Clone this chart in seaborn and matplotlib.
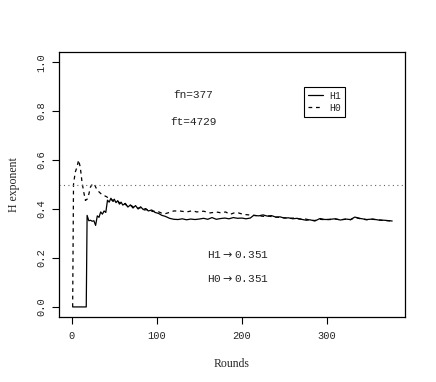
import matplotlib
matplotlib.use("Agg")
import matplotlib.pyplot as plt
import seaborn as sns
import pandas as pd

# Hurst exponent estimates per round
h1_rounds = [1, 17, 18, 20, 22, 24, 26, 28, 30, 32, 34, 36, 38, 40, 42, 44, 46,
             48, 50, 52, 54, 56, 58, 60, 63, 66, 69, 72, 75, 78, 81, 84, 87,
             90, 94, 98, 102, 106, 110, 115, 120, 125, 130, 135, 140, 145,
             150, 155, 160, 165, 170, 175, 180, 185, 190, 195, 200, 205, 210,
             214, 220, 225, 230, 235, 240, 245, 250, 255, 260, 265, 270, 276,
             280, 286, 292, 298, 304, 310, 316, 322, 328, 333, 340, 347, 354,
             361, 368, 377]
h1_values = [0.0, 0.0, 0.374, 0.352, 0.354, 0.350, 0.352, 0.333, 0.372, 0.366,
             0.388, 0.379, 0.392, 0.386, 0.436, 0.428, 0.444, 0.432, 0.440,
             0.426, 0.434, 0.420, 0.428, 0.416, 0.423, 0.408, 0.417, 0.404,
             0.414, 0.400, 0.409, 0.398, 0.402, 0.392, 0.396, 0.386, 0.382,
             0.374, 0.370, 0.362, 0.358, 0.357, 0.360, 0.356, 0.359, 0.357,
             0.359, 0.362, 0.358, 0.365, 0.358, 0.361, 0.363, 0.360, 0.365,
             0.362, 0.363, 0.360, 0.363, 0.374, 0.372, 0.376, 0.371, 0.373,
             0.367, 0.368, 0.363, 0.364, 0.360, 0.362, 0.358, 0.354, 0.356,
             0.351, 0.361, 0.357, 0.358, 0.360, 0.355, 0.359, 0.357, 0.367,
             0.361, 0.357, 0.359, 0.355, 0.354, 0.351]

h0_rounds = [1, 2, 4, 6, 8, 10, 12, 14, 16, 18, 20, 22, 24, 26, 28, 30, 32,
             35, 38, 41, 44, 47, 50, 54, 58, 62, 66, 70, 75, 80, 85, 90, 95,
             100, 105, 110, 115, 120, 127, 135, 142, 147, 155, 163, 170, 176,
             181, 186, 191, 196, 202, 208, 214, 220, 226, 232, 238, 244, 250,
             256, 262, 268, 274, 280, 286, 292, 298, 304, 310, 316, 322, 328,
             333, 340, 347, 354, 361, 368, 377]
h0_values = [0.0, 0.50, 0.55, 0.57, 0.60, 0.57, 0.51, 0.47, 0.435, 0.44,
             0.46, 0.49, 0.50, 0.504, 0.49, 0.476, 0.470, 0.460, 0.455,
             0.450, 0.442, 0.438, 0.430, 0.432, 0.420, 0.422, 0.410, 0.414,
             0.402, 0.405, 0.396, 0.398, 0.390, 0.392, 0.384, 0.381, 0.386,
             0.392, 0.392, 0.388, 0.393, 0.388, 0.391, 0.384, 0.388, 0.384,
             0.388, 0.378, 0.384, 0.384, 0.378, 0.376, 0.374, 0.372, 0.370,
             0.371, 0.367, 0.366, 0.364, 0.362, 0.363, 0.359, 0.360, 0.355,
             0.353, 0.358, 0.356, 0.357, 0.359, 0.356, 0.358, 0.356, 0.365,
             0.360, 0.356, 0.358, 0.355, 0.353, 0.351]

fn_total = 377
ft_total = 4729
h1_final = 0.351
h0_final = 0.351

df = pd.concat([
    pd.DataFrame({"Rounds": h1_rounds, "H": h1_values, "series": "H1"}),
    pd.DataFrame({"Rounds": h0_rounds, "H": h0_values, "series": "H0"}),
])

sns.set_style("ticks")
mono = ["Liberation Mono", "DejaVu Sans Mono"]
serif = ["Liberation Serif", "DejaVu Serif"]

fig = plt.figure(figsize=(4.36, 3.82), dpi=100)
ax = fig.add_axes([0.1353, 0.1709, 0.7936, 0.6921])

sns.lineplot(data=df, x="Rounds", y="H", style="series",
             style_order=["H1", "H0"], dashes={"H1": "", "H0": (3, 3)},
             color="black", linewidth=0.9, legend=False, ax=ax, sort=False)

ax.axhline(0.5, color="#666666", linestyle=(0, (1, 3)), linewidth=0.8)

ax.set_xlim(-15.08, 392.08)
ax.set_ylim(-0.04, 1.04)
ax.set_xticks([0, 100, 200, 300])
ax.set_yticks([0.0, 0.2, 0.4, 0.6, 0.8, 1.0])
ax.set_yticklabels(["0.0", "0.2", "0.4", "0.6", "0.8", "1.0"], rotation=90,
                   va="center")
for lab in ax.get_xticklabels() + ax.get_yticklabels():
    lab.set_family(mono)
    lab.set_fontsize(7.5)
ax.tick_params(direction="out", length=5, width=0.8, color="black")
ax.tick_params(axis="x", pad=5.5)
ax.tick_params(axis="y", pad=4)

for s in ax.spines.values():
    s.set_visible(True)
    s.set_color("black")
    s.set_linewidth(0.9)

ax.set_xlabel("Rounds", family=serif, fontsize=8.5, labelpad=12)
ax.set_ylabel("H exponent", family=serif, fontsize=8.5, labelpad=12)

ax.text(143, 0.864, f"fn={fn_total}", family=mono, fontsize=8,
        ha="center", va="center")
ax.text(143, 0.757, f"ft={ft_total}", family=mono, fontsize=8,
        ha="center", va="center")
ax.text(196, 0.215, f"H1$\\rightarrow${h1_final}", family=mono,
        fontsize=8, ha="center", va="center")
ax.text(196, 0.117, f"H0$\\rightarrow${h0_final}", family=mono,
        fontsize=8, ha="center", va="center")

handles = [plt.Line2D([], [], color="black", lw=0.9),
           plt.Line2D([], [], color="black", lw=0.9, dashes=(3, 3))]
leg = ax.legend(handles, ["H1", "H0"], loc="upper left",
                bbox_to_anchor=(0.708, 0.869), borderaxespad=0,
                fancybox=False, edgecolor="black", framealpha=1,
                handlelength=1.6, handletextpad=0.6, borderpad=0.4,
                labelspacing=0.2, prop={"family": mono, "size": 7})
leg.get_frame().set_linewidth(0.8)

fig.savefig("out.png", dpi=100)
